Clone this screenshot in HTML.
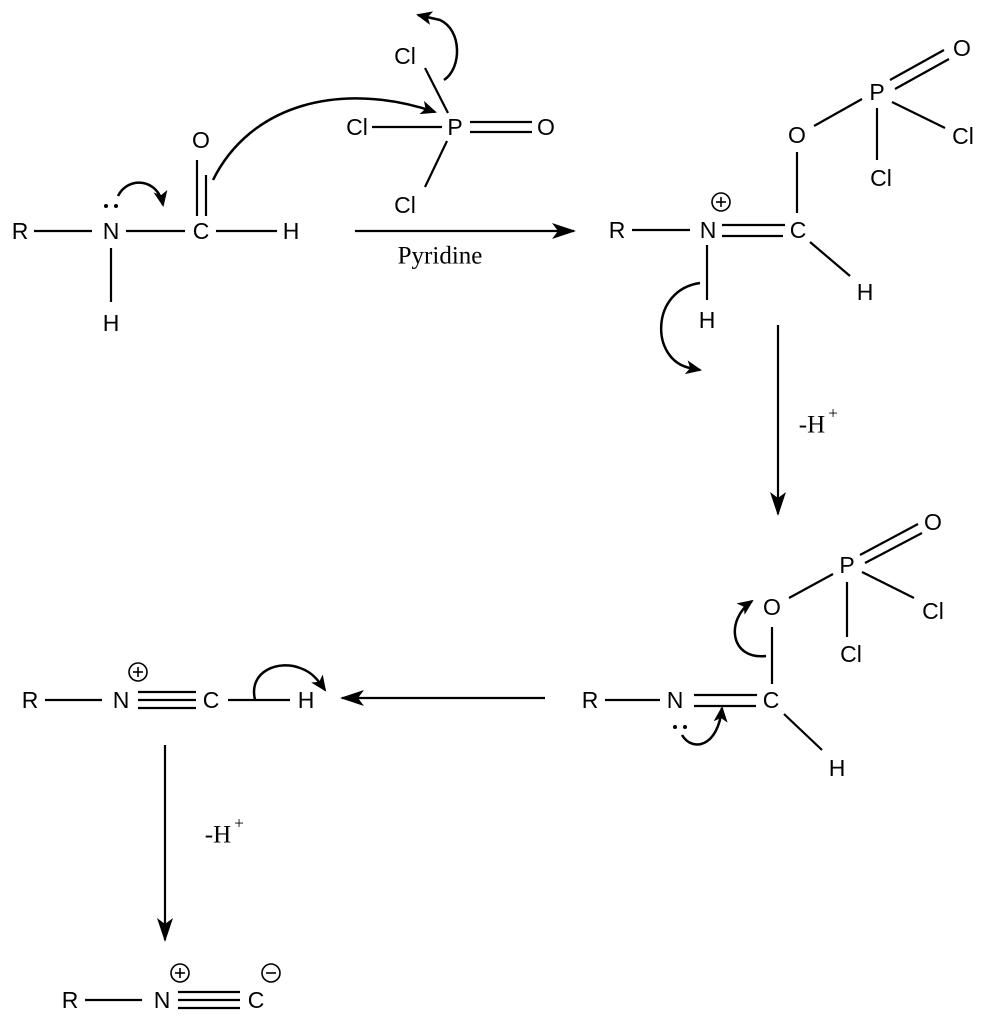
<!DOCTYPE html>
<html><head><meta charset="utf-8"><style>
body{margin:0;background:#fff}
svg{display:block}
text{font-family:"Liberation Sans",sans-serif;font-size:23px;fill:#000;text-anchor:middle;dominant-baseline:central}
.s{font-family:"Liberation Serif",serif;font-size:25px}
line,path.b{stroke:#000;stroke-width:2.2;fill:none}
path.a{stroke:#000;stroke-width:2.5;fill:none}
circle.c{stroke:#000;stroke-width:1.6;fill:none}
</style></head><body>
<svg width="983" height="1022" viewBox="0 0 983 1022" xmlns="http://www.w3.org/2000/svg">
<defs>
<marker id="ah" markerWidth="10" markerHeight="10" refX="8" refY="5" orient="auto" markerUnits="userSpaceOnUse"><path d="M0,0 L10,5 L0,10 L3,5 z" fill="#000"/></marker>
<marker id="big" markerWidth="24" markerHeight="16" refX="22" refY="8" orient="auto" markerUnits="userSpaceOnUse"><path d="M0,0 L24,8 L0,16 L6,8 z" fill="#000"/></marker>
<marker id="mid" markerWidth="16" markerHeight="14" refX="14" refY="7" orient="auto" markerUnits="userSpaceOnUse"><path d="M0,0 L16,7 L0,14 L4,7 z" fill="#000"/></marker>
</defs>

<!-- Formamide -->
<text x="20" y="231">R</text>
<line x1="34" y1="231" x2="92" y2="231"/>
<text x="111" y="231">N</text>
<line x1="126" y1="231" x2="185" y2="231"/>
<text x="201" y="231">C</text>
<line x1="216" y1="231" x2="277" y2="231"/>
<text x="291" y="231">H</text>
<line x1="111" y1="248" x2="111" y2="302"/>
<text x="111" y="323">H</text>
<circle cx="106" cy="206" r="2" fill="#000"/><circle cx="116" cy="206" r="2" fill="#000"/>
<line x1="197" y1="160" x2="197" y2="216"/><line x1="206" y1="175" x2="206" y2="216"/>
<text x="201" y="140">O</text>
<path class="a" d="M118,196 C128,176 158,178 163,205" marker-end="url(#mid)"/>
<path class="a" d="M213,180 C250,105 340,80 435,112" marker-end="url(#mid)"/>

<!-- POCl3 -->
<text x="455" y="127">P</text>
<text x="357" y="127">Cl</text>
<line x1="372" y1="127" x2="442" y2="127"/>
<line x1="470" y1="122" x2="532" y2="122"/><line x1="470" y1="132" x2="532" y2="132"/>
<text x="546" y="127">O</text>
<text x="405" y="56">Cl</text>
<line x1="425" y1="68" x2="448" y2="113"/>
<text x="405" y="205">Cl</text>
<line x1="447" y1="141" x2="425" y2="187"/>
<path class="a" d="M444,80 C462,68 462,30 440,20 L418,15" marker-end="url(#mid)"/>

<!-- Reaction arrow -->
<line x1="355" y1="231" x2="574" y2="231" marker-end="url(#big)"/>
<text class="s" x="440" y="256">Pyridine</text>

<!-- Product 1 -->
<text x="617" y="230">R</text>
<line x1="632" y1="230" x2="690" y2="230"/>
<text x="708" y="230">N</text>
<circle class="c" cx="721" cy="202" r="9"/>
<line x1="716" y1="202" x2="726" y2="202" style="stroke-width:1.6"/><line x1="721" y1="197" x2="721" y2="207" style="stroke-width:1.6"/>
<line x1="722" y1="225" x2="785" y2="225"/><line x1="722" y1="236" x2="783" y2="236"/>
<text x="798" y="230">C</text>
<line x1="797" y1="213" x2="797" y2="152"/>
<text x="797" y="135">O</text>
<line x1="814" y1="126" x2="862" y2="99"/>
<text x="877" y="92">P</text>
<line x1="890" y1="80" x2="944" y2="50"/><line x1="895" y1="89" x2="949" y2="59"/>
<text x="962" y="48">O</text>
<line x1="892" y1="102" x2="945" y2="128"/>
<text x="963" y="136">Cl</text>
<line x1="877" y1="108" x2="877" y2="160"/>
<text x="881" y="178">Cl</text>
<line x1="810" y1="242" x2="850" y2="276"/>
<text x="865" y="292">H</text>
<line x1="707" y1="245" x2="707" y2="300"/>
<text x="707" y="320">H</text>
<path class="a" d="M700,283 C650,290 650,360 690,368 L700,370" marker-end="url(#mid)"/>

<line x1="778" y1="325" x2="778" y2="514" marker-end="url(#big)"/>
<text class="s" x="812" y="425">-H</text><text class="s" x="833" y="413" style="font-size:17px">+</text>

<!-- Product 2 -->
<text x="590" y="700">R</text>
<line x1="605" y1="700" x2="660" y2="700"/>
<text x="675" y="700">N</text>
<line x1="694" y1="695" x2="757" y2="695"/><line x1="694" y1="706" x2="756" y2="706"/>
<text x="771" y="700">C</text>
<line x1="784" y1="714" x2="822" y2="750"/>
<text x="837" y="768">H</text>
<line x1="772" y1="684" x2="772" y2="627"/>
<text x="772" y="607">O</text>
<line x1="789" y1="598" x2="833" y2="574"/>
<text x="847" y="565">P</text>
<line x1="860" y1="555" x2="918" y2="524"/><line x1="865" y1="563" x2="922" y2="533"/>
<text x="933" y="522">O</text>
<line x1="862" y1="572" x2="914" y2="598"/>
<text x="933" y="611">Cl</text>
<line x1="847" y1="582" x2="847" y2="637"/>
<text x="851" y="654">Cl</text>
<circle cx="675" cy="727" r="2" fill="#000"/><circle cx="685" cy="727" r="2" fill="#000"/>
<path class="a" d="M682,735 C692,752 718,748 722,708" marker-end="url(#mid)"/>
<path class="a" d="M766,656 C730,660 725,620 752,601" marker-end="url(#mid)"/>

<line x1="545" y1="698" x2="342" y2="698" marker-end="url(#big)"/>

<!-- Product 3 -->
<text x="30" y="700">R</text>
<line x1="45" y1="700" x2="102" y2="700"/>
<text x="121" y="700">N</text>
<circle class="c" cx="138" cy="672" r="9"/>
<line x1="133" y1="672" x2="143" y2="672" style="stroke-width:1.6"/><line x1="138" y1="667" x2="138" y2="677" style="stroke-width:1.6"/>
<line x1="138" y1="692" x2="196" y2="692"/><line x1="138" y1="700" x2="196" y2="700"/><line x1="138" y1="708" x2="196" y2="708"/>
<text x="211" y="700">C</text>
<line x1="228" y1="700" x2="290" y2="700"/>
<text x="306" y="700">H</text>
<path class="a" d="M255,700 C248,670 280,660 300,668 C312,672 318,680 325,690" marker-end="url(#mid)"/>

<line x1="165" y1="745" x2="165" y2="940" marker-end="url(#big)"/>
<text class="s" x="218" y="835">-H</text><text class="s" x="239" y="823" style="font-size:17px">+</text>

<!-- Product 4 -->
<text x="70" y="1000">R</text>
<line x1="85" y1="1000" x2="142" y2="1000"/>
<text x="162" y="1000">N</text>
<circle class="c" cx="180" cy="973" r="9"/>
<line x1="175" y1="973" x2="185" y2="973" style="stroke-width:1.6"/><line x1="180" y1="968" x2="180" y2="978" style="stroke-width:1.6"/>
<line x1="178" y1="992" x2="240" y2="992"/><line x1="178" y1="1000" x2="240" y2="1000"/><line x1="178" y1="1008" x2="240" y2="1008"/>
<text x="256" y="1000">C</text>
<circle class="c" cx="271" cy="973" r="9"/>
<line x1="266" y1="973" x2="276" y2="973" style="stroke-width:1.6"/>
</svg>
</body></html>
